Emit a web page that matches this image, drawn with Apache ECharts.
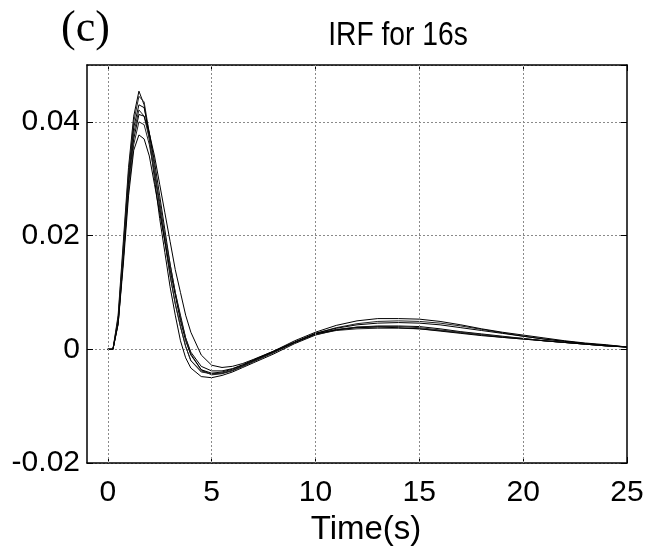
<!DOCTYPE html>
<html>
<head>
<meta charset="utf-8">
<script src="https://cdn.jsdelivr.net/npm/echarts@6/dist/echarts.min.js"></script>
<style>html,body{margin:0;padding:0;background:#fff}#c{width:650px;height:551px}</style>
</head>
<body>
<div id="c"></div>
<script>
const times = [0,0.25,0.5,0.75,1,1.25,1.5,1.75,2,2.25,2.5,2.75,3,3.25,3.5,3.75,4,4.5,5,5.5,6,6.5,7,8,9,10,11,12,13,14,15,16,17,18,19,20,21,22,23,24,25];
const irf1 = [0,0,0.006,0.019,0.032,0.041,0.0454,0.043,0.037,0.030,0.023,0.017,0.011,0.006,0.0015,-0.0015,-0.0033,-0.0048,-0.0050,-0.0046,-0.0040,-0.0032,-0.0024,-0.0008,0.0010,0.0025,0.0034,0.0039,0.0041,0.0041,0.0040,0.0036,0.0031,0.0027,0.0023,0.0019,0.0015,0.0012,0.0009,0.0006,0.0004];
const irf2 = [0,0,0.0055,0.018,0.031,0.040,0.0445,0.0435,0.038,0.032,0.025,0.019,0.013,0.008,0.004,0.0005,-0.002,-0.0040,-0.0043,-0.0042,-0.0037,-0.0030,-0.0022,-0.0006,0.0012,0.0028,0.0038,0.0045,0.0049,0.0050,0.0049,0.0046,0.0041,0.0035,0.0029,0.0023,0.0018,0.0014,0.0010,0.0007,0.0004];
const irf3 = [0,0,0.005,0.017,0.030,0.039,0.043,0.0425,0.038,0.033,0.027,0.021,0.015,0.010,0.006,0.002,-0.0005,-0.0030,-0.0038,-0.0038,-0.0034,-0.0027,-0.0019,-0.0003,0.0015,0.0030,0.0042,0.0050,0.0054,0.0054,0.0053,0.0049,0.0043,0.0036,0.0030,0.0025,0.0020,0.0015,0.0011,0.0008,0.0004];
const irf4 = [0,0,0.005,0.017,0.030,0.038,0.0421,0.041,0.037,0.031,0.025,0.019,0.013,0.008,0.004,0.0005,-0.002,-0.0038,-0.0044,-0.0042,-0.0037,-0.0029,-0.0021,-0.0005,0.0012,0.0027,0.0035,0.0039,0.0040,0.0040,0.0038,0.0034,0.0030,0.0026,0.0022,0.0019,0.0015,0.0012,0.0009,0.0006,0.0004];
const irf5 = [0,0,0.0045,0.016,0.029,0.037,0.0413,0.041,0.038,0.034,0.029,0.024,0.019,0.014,0.010,0.006,0.003,-0.0010,-0.0028,-0.0032,-0.0030,-0.0025,-0.0018,-0.0003,0.0013,0.0028,0.0037,0.0043,0.0046,0.0047,0.0046,0.0043,0.0038,0.0033,0.0028,0.0023,0.0018,0.0014,0.0010,0.0007,0.0004];
const irf6 = [0,0,0.0045,0.016,0.028,0.036,0.040,0.0395,0.036,0.031,0.026,0.020,0.015,0.010,0.0055,0.002,-0.0008,-0.0036,-0.0045,-0.0043,-0.0038,-0.0030,-0.0022,-0.0005,0.0012,0.0026,0.0033,0.0036,0.0037,0.0037,0.0036,0.0033,0.0029,0.0025,0.0021,0.0018,0.0015,0.0012,0.0009,0.0006,0.0004];
const irf7 = [0,0,0.0045,0.015,0.027,0.035,0.0377,0.037,0.034,0.029,0.024,0.019,0.014,0.0095,0.005,0.0015,-0.001,-0.0036,-0.0042,-0.0040,-0.0035,-0.0028,-0.0020,-0.0004,0.0012,0.0027,0.0034,0.0038,0.0039,0.0038,0.0036,0.0032,0.0028,0.0024,0.0021,0.0018,0.0015,0.0012,0.0009,0.0006,0.0004];
const allSeries = [irf1, irf2, irf3, irf4, irf5, irf6, irf7];
const xTicks = [0,5,10,15,20,25];
const titleText = 'IRF for 16s';
const panelLabel = '(c)';
const xName = 'Time(s)';

const chart = echarts.init(document.getElementById('c'), null, {renderer: 'canvas'});
const FONT = '"Liberation Sans", Arial, sans-serif';
const gridStyle = {show: true, lineStyle: {color: '#8a8a8a', type: [2, 2], width: 1}};
const option = {
  animation: false,
  backgroundColor: '#fff',
  graphic: [{
    type: 'text', left: 61, top: 7,
    style: {text: panelLabel, font: '44px "Liberation Serif", "Times New Roman", serif', fill: '#000'}
  }, {
    type: 'text', x: 398, y: 36, scaleX: 0.83,
    style: {text: titleText, font: '34px ' + FONT, fill: '#000', align: 'center', verticalAlign: 'middle'}
  }, {
    type: 'text', x: 366, y: 530,
    style: {text: xName, font: '33px ' + FONT, fill: '#000', align: 'center', verticalAlign: 'middle'}
  }],
  grid: {left: 87, right: 23, top: 65, bottom: 88, containLabel: false},
  xAxis: [{
    type: 'value', min: -1, max: 25, position: 'bottom',
    axisLine: {show: true, onZero: false, lineStyle: {color: '#000', width: 1.5}},
    axisTick: {show: true, inside: true, length: 6, customValues: xTicks, lineStyle: {color: '#000'}},
    axisLabel: {customValues: xTicks, fontFamily: FONT, fontSize: 30, color: '#000', margin: 15},
    splitLine: {show: false}
  }, {
    type: 'value', min: -1, max: 25, position: 'top',
    axisLine: {show: true, onZero: false, lineStyle: {color: '#000', width: 1.5}},
    axisTick: {show: true, inside: true, length: 6, customValues: xTicks, lineStyle: {color: '#000'}},
    axisLabel: {show: false}, splitLine: {show: false}
  }],
  yAxis: [{
    type: 'value', min: -0.02, max: 0.05, interval: 0.02, position: 'left',
    axisLine: {show: true, onZero: false, lineStyle: {color: '#000', width: 1.5}},
    axisTick: {show: true, inside: true, length: 6, lineStyle: {color: '#000'}},
    axisLabel: {fontFamily: FONT, fontSize: 30, color: '#000', margin: 7, showMaxLabel: false,
      formatter: v => String(+v.toFixed(2))},
    splitLine: gridStyle
  }, {
    type: 'value', min: -0.02, max: 0.05, interval: 0.02, position: 'right',
    axisLine: {show: true, onZero: false, lineStyle: {color: '#000', width: 1.5}},
    axisTick: {show: true, inside: true, length: 6, lineStyle: {color: '#000'}},
    axisLabel: {show: false}, splitLine: {show: false}
  }],
  series: allSeries.map((vals, i) => ({
    type: 'line', xAxisIndex: 0, yAxisIndex: 0,
    data: times.map((t, k) => [t, vals[k]]),
    showSymbol: false, symbol: 'none',
    lineStyle: {color: i % 2 ? '#222' : '#000', width: 1},
    markLine: i === 0 ? {
      silent: true, symbol: 'none', label: {show: false},
      lineStyle: {color: '#8a8a8a', type: [2, 2], width: 1},
      data: xTicks.filter(v => v > -1 && v < 25).map(v => ({xAxis: v}))
    } : undefined,
    z: 3
  }))
};
chart.setOption(option);
</script>
</body>
</html>
